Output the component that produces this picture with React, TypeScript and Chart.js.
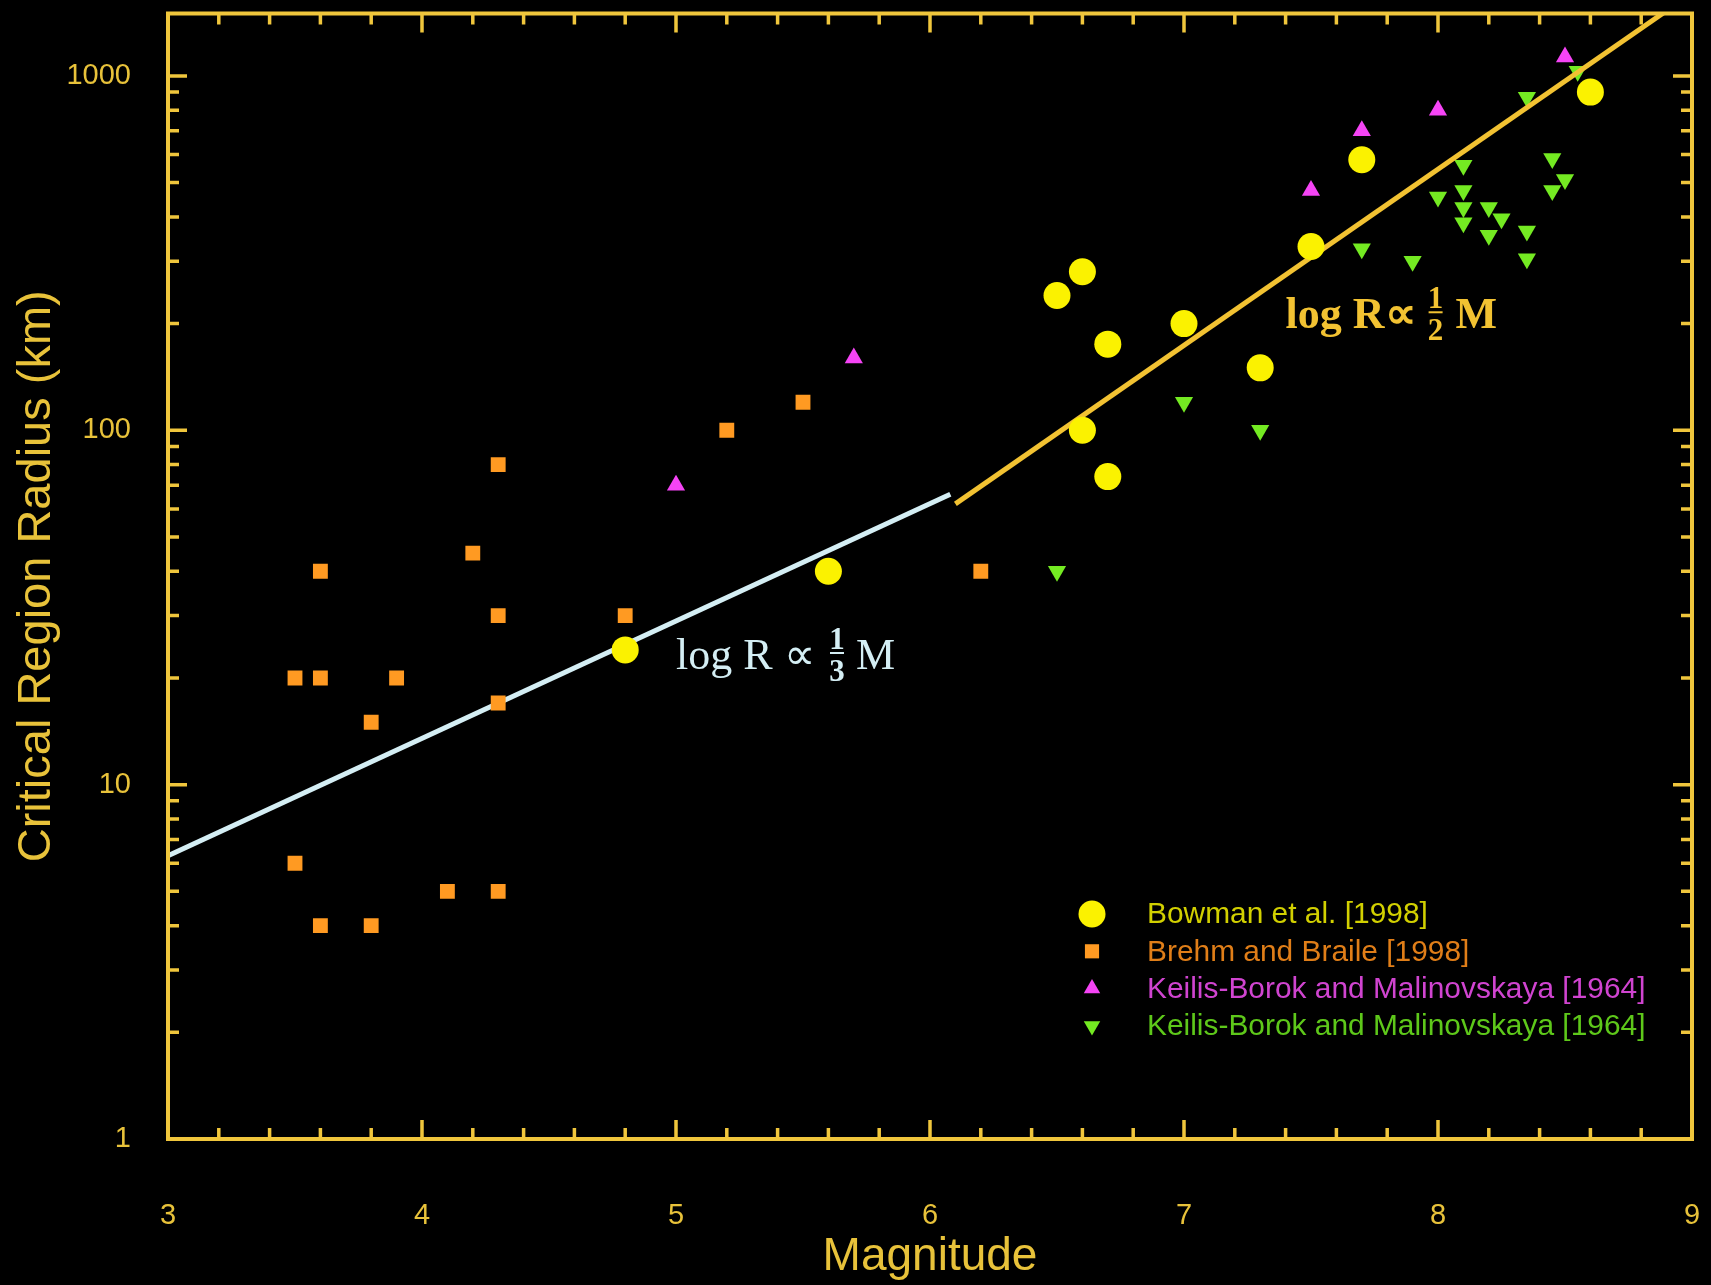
import React, { useEffect, useRef } from 'react';
import { Chart, registerables } from 'chart.js';

Chart.register(...registerables);

// ---------------- data ----------------
const bowmanM = [4.8, 5.6, 6.5, 6.6, 6.6, 6.7, 6.7, 7.0, 7.3, 7.5, 7.7, 8.6];
const bowmanR = [24, 40, 240, 280, 100, 175, 74, 200, 150, 330, 580, 900];

const brehmM = [3.5, 3.5, 3.6, 3.6, 3.6, 3.8, 3.8, 3.9, 4.1, 4.2, 4.3, 4.3, 4.3, 4.3, 4.8, 5.2, 5.5, 6.2];
const brehmR = [20, 6, 40, 20, 4, 15, 4, 20, 5, 45, 80, 30, 17, 5, 30, 100, 120, 40];

const kbUpM = [5.0, 5.7, 7.5, 7.7, 8.0, 8.5];
const kbUpR = [70, 160, 475, 700, 800, 1130];

const kbDownM = [6.5, 7.0, 7.3, 7.7, 7.9, 8.0, 8.1, 8.1, 8.1, 8.1, 8.2, 8.2, 8.25, 8.35, 8.35, 8.35, 8.45, 8.45, 8.5, 8.55];
const kbDownR = [40, 120, 100, 325, 300, 455, 560, 475, 425, 385, 425, 355, 395, 870, 365, 305, 585, 475, 510, 1030];

const lowLineM = [3.0, 6.08];
const lowLineR = [6.3, 66];
const highLineM = [6.1, 8.89];
const highLineR = [62, 1510];

const xTicks = [3, 4, 5, 6, 7, 8, 9];
const yTicks = [1, 10, 100, 1000];

const legendLabels = [
  'Bowman et al. [1998]',
  'Brehm and Braile [1998]',
  'Keilis-Borok and Malinovskaya [1964]',
  'Keilis-Borok and Malinovskaya [1964]',
];

// ---------------- styles ----------------
const W = 1711;
const H = 1285;
const AXIS = '#f0c63c';
const LABEL = '#e8c23a';
const SANS = '"Liberation Sans", Arial, Helvetica, sans-serif';
const SERIF = '"Liberation Serif", "Times New Roman", serif';

const C_BOW = '#fbf200';
const C_BRE = '#ff9a22';
const C_UP = '#f544f5';
const C_DN = '#74ea22';
const T_BOW = '#d2d000';
const T_BRE = '#e07e18';
const T_UP = '#d044d0';
const T_DN = '#5ec81a';
const C_LOW = '#d4eef4';
const C_HIGH = '#f2c232';

const pts = (xs: number[], ys: number[]) => xs.map((x, i) => ({ x, y: ys[i] }));

function drawMarker(ctx: CanvasRenderingContext2D, kind: string, x: number, y: number, r: number, color: string) {
  ctx.save();
  ctx.fillStyle = color;
  ctx.beginPath();
  if (kind === 'circle') {
    ctx.arc(x, y, r, 0, Math.PI * 2);
  } else if (kind === 'rect') {
    const s = Math.SQRT1_2 * r;
    ctx.rect(x - s, y - s, 2 * s, 2 * s);
  } else {
    const dir = kind === 'up' ? 1 : -1;
    ctx.moveTo(x, y - dir * r);
    ctx.lineTo(x + 0.866 * r, y + dir * 0.5 * r);
    ctx.lineTo(x - 0.866 * r, y + dir * 0.5 * r);
    ctx.closePath();
  }
  ctx.fill();
  ctx.restore();
}

const framePlugin = {
  id: 'frame',
  afterDraw(chart: any) {
    const { ctx, chartArea } = chart;
    const { left, right, top, bottom } = chartArea;
    const xs = chart.scales.x;
    const ys = chart.scales.y;
    ctx.save();
    ctx.strokeStyle = AXIS;
    ctx.lineWidth = 4;
    ctx.lineCap = 'butt';
    ctx.strokeRect(left, top, right - left, bottom - top);
    ctx.lineWidth = 3.5;
    const MAJ = 19;
    const MIN = 11;
    // x ticks (top and bottom)
    for (let i = 0; i < xTicks.length; i++) {
      const v = xTicks[i];
      for (let k = 0; k < 5; k++) {
        const val = v + k * 0.2;
        if (val > xTicks[xTicks.length - 1] + 1e-9) break;
        const px = xs.getPixelForValue(val);
        if (px <= left + 1 || px >= right - 1) continue;
        const len = k === 0 ? MAJ : MIN;
        ctx.beginPath();
        ctx.moveTo(px, bottom);
        ctx.lineTo(px, bottom - len);
        ctx.moveTo(px, top);
        ctx.lineTo(px, top + len);
        ctx.stroke();
      }
    }
    // y ticks (left and right)
    for (let i = 0; i < yTicks.length; i++) {
      const d = yTicks[i];
      for (let k = 1; k <= 9; k++) {
        const val = d * k;
        if (val > ys.max) break;
        const py = ys.getPixelForValue(val);
        if (py >= bottom - 1 || py <= top + 1) continue;
        const len = k === 1 ? MAJ : MIN;
        ctx.beginPath();
        ctx.moveTo(left, py);
        ctx.lineTo(left + len, py);
        ctx.moveTo(right, py);
        ctx.lineTo(right - len, py);
        ctx.stroke();
      }
    }
    ctx.restore();
  },
};

const legendPlugin = {
  id: 'customLegend',
  afterDraw(chart: any) {
    const { ctx } = chart;
    const kinds = ['circle', 'rect', 'up', 'down'];
    const mcol = [C_BOW, C_BRE, C_UP, C_DN];
    const tcol = [T_BOW, T_BRE, T_UP, T_DN];
    const rad = [13.5, 10, 9.5, 9.5];
    const mx = 1092;
    const tx = 1147;
    const y0 = 914;
    const dy = 37.3;
    ctx.save();
    ctx.font = `29.9px ${SANS}`;
    ctx.textBaseline = 'middle';
    ctx.textAlign = 'left';
    for (let i = 0; i < 4; i++) {
      const y = y0 + i * dy;
      drawMarker(ctx, kinds[i], mx, y, rad[i], mcol[i]);
      ctx.fillStyle = tcol[i];
      ctx.fillText(legendLabels[i], tx, y + 1);
    }
    ctx.restore();
  },
};

function drawFormula(
  ctx: CanvasRenderingContext2D,
  x: number,
  y: number,
  head: string,
  den: string,
  fracOffset: number,
  mOffset: number,
  bold: boolean,
  color: string,
) {
  ctx.save();
  ctx.fillStyle = color;
  ctx.strokeStyle = color;
  ctx.textBaseline = 'alphabetic';
  ctx.textAlign = 'left';
  ctx.font = `${bold ? 'bold ' : ''}44px ${SERIF}`;
  ctx.fillText(head, x, y);
  ctx.fillText('M', x + mOffset, y);
  const fc = x + fracOffset;
  ctx.font = `bold 31px ${SERIF}`;
  ctx.textAlign = 'center';
  ctx.fillText('1', fc, y - 20);
  ctx.fillText(den, fc, y + 12);
  ctx.lineWidth = 2;
  ctx.beginPath();
  ctx.moveTo(fc - 7, y - 16);
  ctx.lineTo(fc + 7, y - 16);
  ctx.stroke();
  ctx.restore();
}

const formulaPlugin = {
  id: 'formulas',
  afterDatasetsDraw(chart: any) {
    const { ctx } = chart;
    const xs = chart.scales.x;
    const ys = chart.scales.y;
    const x1 = xs.getPixelForValue(5.0);
    const y1 = ys.getPixelForValue(21.2);
    drawFormula(ctx, x1, y1, 'log R \u221D', '3', 161, 180, false, C_LOW);
    const x2 = xs.getPixelForValue(7.4);
    const y2 = ys.getPixelForValue(194);
    drawFormula(ctx, x2, y2, 'log R\u221D', '2', 150, 170, true, C_HIGH);
  },
};

const zeroPad = (s: any) => {
  s.paddingTop = 0;
  s.paddingBottom = 0;
  s.paddingLeft = 0;
  s.paddingRight = 0;
};

export default function App() {
  const ref = useRef<HTMLCanvasElement>(null);
  useEffect(() => {
    document.body.style.margin = '0';
    document.body.style.background = '#000';
    const canvas = ref.current!;
    const chart = new Chart(canvas, {
      type: 'scatter',
      data: {
        datasets: [
          {
            label: legendLabels[0],
            data: pts(bowmanM, bowmanR),
            pointStyle: 'circle',
            pointRadius: 13.5,
            backgroundColor: C_BOW,
            borderWidth: 0,
            order: 0,
          },
          {
            label: 'high',
            data: pts(highLineM, highLineR),
            showLine: true,
            pointRadius: 0,
            borderColor: C_HIGH,
            borderWidth: 5,
            order: 1,
          },
          {
            label: legendLabels[2],
            data: pts(kbUpM, kbUpR),
            pointStyle: 'triangle',
            pointRadius: 10.5,
            backgroundColor: C_UP,
            borderWidth: 0,
            order: 2,
          },
          {
            label: legendLabels[3],
            data: pts(kbDownM, kbDownR),
            pointStyle: 'triangle',
            pointRotation: 180,
            pointRadius: 10.5,
            backgroundColor: C_DN,
            borderWidth: 0,
            order: 3,
          },
          {
            label: legendLabels[1],
            data: pts(brehmM, brehmR),
            pointStyle: 'rect',
            pointRadius: 10.5,
            backgroundColor: C_BRE,
            borderWidth: 0,
            order: 4,
          },
          {
            label: 'low',
            data: pts(lowLineM, lowLineR),
            showLine: true,
            pointRadius: 0,
            borderColor: C_LOW,
            borderWidth: 5,
            order: 5,
          },
        ],
      } as any,
      options: {
        responsive: false,
        animation: false,
        events: [],
        devicePixelRatio: 1,
        layout: { padding: { top: 13, right: 19, left: 0, bottom: 0 } },
        plugins: {
          legend: { display: false },
          tooltip: { enabled: false },
        },
        scales: {
          x: {
            type: 'linear',
            position: 'bottom',
            min: 3,
            max: 9,
            grid: { display: false, drawTicks: false },
            border: { display: false },
            afterBuildTicks: (s: any) => {
              s.ticks = xTicks.map((v) => ({ value: v }));
            },
            afterFit: (s: any) => {
              s.height = 146;
              zeroPad(s);
            },
            ticks: {
              color: LABEL,
              font: { family: SANS, size: 29 },
              padding: 60,
              maxRotation: 0,
              autoSkip: false,
              callback: (v: any) => String(v),
            },
            title: {
              display: true,
              text: 'Magnitude',
              color: LABEL,
              font: { family: SANS, size: 46 },
              padding: { top: 0, bottom: 0 },
            },
          },
          y: {
            type: 'logarithmic',
            position: 'left',
            min: 1,
            max: 1500,
            grid: { display: false, drawTicks: false },
            border: { display: false },
            afterBuildTicks: (s: any) => {
              s.ticks = yTicks.map((v) => ({ value: v, major: true }));
            },
            afterFit: (s: any) => {
              s.width = 168;
              zeroPad(s);
            },
            ticks: {
              color: LABEL,
              font: { family: SANS, size: 29 },
              padding: 37,
              autoSkip: false,
              callback: (v: any) => String(v),
            },
            title: {
              display: true,
              text: 'Critical Region Radius (km)',
              color: LABEL,
              font: { family: SANS, size: 47 },
              padding: { top: 9, bottom: 0 },
            },
          },
        },
      } as any,
      plugins: [formulaPlugin, framePlugin, legendPlugin],
    });
    return () => chart.destroy();
  }, []);
  return (
    <div style={{ width: W, height: H, background: '#000' }}>
      <canvas ref={ref} width={W} height={H} style={{ display: 'block', width: W, height: H }} />
    </div>
  );
}
